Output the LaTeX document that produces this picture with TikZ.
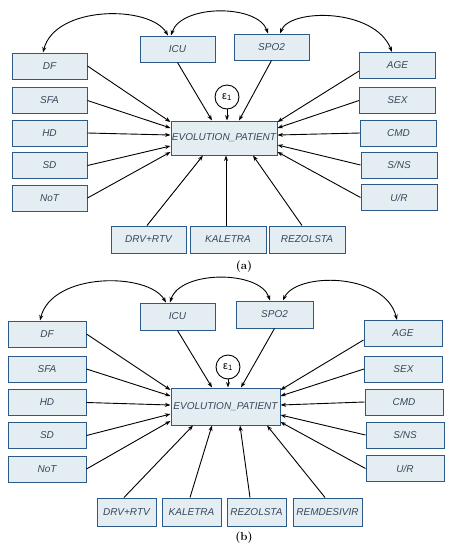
\documentclass[tikz,border=0pt]{standalone}
\usepackage{fontspec}
\newfontfamily\arialfont{Liberation Sans}
\usetikzlibrary{arrows.meta}
\definecolor{boxfill}{HTML}{E4EEF2}
\definecolor{boxline}{HTML}{2B5A88}
\definecolor{boxtext}{HTML}{38465A}
\tikzset{
  vbox/.style={draw=boxline, fill=boxfill, line width=1pt, rectangle, inner sep=0pt,
    minimum width=75pt, minimum height=26pt, text=boxtext,
    font=\arialfont\itshape\fontsize{10}{11}\selectfont},
  errc/.style={draw=black, fill=white, circle, line width=0.9pt, minimum size=24pt, inner sep=0pt,
    font=\arialfont\fontsize{11}{12}\selectfont},
  pth/.style={draw=black, line width=0.9pt, -{Stealth[length=5.5pt,width=4pt]}},
  cov/.style={draw=black, line width=0.9pt, {Stealth[length=5.5pt,width=4pt]}-{Stealth[length=5.5pt,width=4pt]}},
  plab/.style={font=\bfseries\fontsize{11.5}{13}\selectfont}
}
\begin{document}
\begin{tikzpicture}[x=1pt,y=-1pt]
\useasboundingbox (0,0) rectangle (452,550);
% ---------------- panel (a) ----------------
\node[vbox] (aDF)  at (49.5,66)   {DF};
\node[vbox] (aSFA) at (49.5,100.5){SFA};
\node[vbox] (aHD)  at (49.5,133)  {HD};
\node[vbox] (aSD)  at (49.5,165.5){SD};
\node[vbox] (aNoT) at (49.5,198)  {NoT};
\node[vbox,minimum width=76pt] (aAGE) at (397.5,65.5) {AGE};
\node[vbox,minimum width=76pt] (aSEX) at (397.5,100.5){SEX};
\node[vbox,minimum width=76pt] (aCMD) at (398.5,133)  {CMD};
\node[vbox,minimum width=76pt] (aSNS) at (399,165)    {S/NS};
\node[vbox,minimum width=76pt] (aUR)  at (399,197.5)  {U/R};
\node[vbox] (aICU) at (177.5,49) {ICU};
\node[vbox] (aSPO) at (271.5,47) {SPO2};
\node[vbox,minimum width=106pt,minimum height=34pt] (aEP) at (224,138) {EVOLUTION\_PATIENT};
\node[errc] (aE) at (227,97) {ε\textsubscript{1}};
\node[vbox,minimum height=27pt] (aDRV) at (148.5,239.5) {DRV+RTV};
\node[vbox,minimum width=76pt,minimum height=27pt] (aKAL) at (228,239.5) {KALETRA};
\node[vbox,minimum width=76pt,minimum height=27pt] (aREZ) at (307,239.5) {REZOLSTA};
\node[plab] (alab) at (244,267) {(a)};
\draw[pth] (aDF.east)  -- (aEP.west |- 0,122);
\draw[pth] (aSFA.east) -- (aEP.west |- 0,128);
\draw[pth] (aHD.east)  -- (aEP.west |- 0,135);
\draw[pth] (aSD.east)  -- (aEP.west |- 0,146);
\draw[pth] (aNoT.east) -- (aEP.west |- 0,152);
\draw[pth] (aAGE.west |- 0,71) -- (aEP.east |- 0,122);
\draw[pth] (aSEX.west) -- (aEP.east |- 0,128);
\draw[pth] (aCMD.west) -- (aEP.east |- 0,135);
\draw[pth] (aSNS.west) -- (aEP.east |- 0,145);
\draw[pth] (aUR.west)  -- (aEP.east |- 0,152);
\draw[pth] (aICU.south) -- (aEP.north -| 212,0);
\draw[pth] (aSPO.south) -- (aEP.north -| 239,0);
\draw[pth] (aE.south) -- (aEP.north -| 227,0);
\draw[pth] (aDRV.north -| 147,0) -- (aEP.south -| 203,0);
\draw[pth] (aKAL.north -| 226,0) -- (aEP.south -| 226,0);
\draw[pth] (aREZ.north -| 302,0) -- (aEP.south -| 253,0);
\draw[cov] (aDF.north -| 43,0) .. controls (55,5) and (150,5) .. (aICU.north -| 168,0);
\draw[cov] (aICU.north -| 171,0) .. controls (181,4) and (258,4) .. (aSPO.north -| 268,0);
\draw[cov] (aSPO.north -| 280,0) .. controls (290,8) and (375,8) .. (aAGE.north -| 392,0);
% ---------------- panel (b) ----------------
\node[vbox,minimum width=78pt] (bDF)  at (47,334)   {DF};
\node[vbox,minimum width=78pt] (bSFA) at (47,369)   {SFA};
\node[vbox,minimum width=78pt] (bHD)  at (47,402.5) {HD};
\node[vbox,minimum width=78pt] (bSD)  at (47,435.5) {SD};
\node[vbox,minimum width=78pt] (bNoT) at (47,469)   {NoT};
\node[vbox,minimum width=78pt] (bAGE) at (403,333.5) {AGE};
\node[vbox,minimum width=78pt] (bSEX) at (403.5,369) {SEX};
\node[vbox,minimum width=78pt] (bCMD) at (404,402)   {CMD};
\node[vbox,minimum width=78pt] (bSNS) at (405,435)   {S/NS};
\node[vbox,minimum width=78pt] (bUR)  at (405,468.5) {U/R};
\node[vbox,minimum height=27pt] (bICU) at (177.5,316.5) {ICU};
\node[vbox,minimum width=77pt,minimum height=27pt] (bSPO) at (274.5,314.5) {SPO2};
\node[vbox,minimum width=109pt,minimum height=37pt] (bEP) at (225.5,406.5) {EVOLUTION\_PATIENT};
\node[errc] (bE) at (228,367) {ε\textsubscript{1}};
\node[vbox,minimum width=59pt,minimum height=28pt] (bDRV) at (126.5,512) {DRV+RTV};
\node[vbox,minimum width=59pt,minimum height=28pt] (bKAL) at (191.5,512) {KALETRA};
\node[vbox,minimum width=59pt,minimum height=28pt] (bREZ) at (256.5,512) {REZOLSTA};
\node[vbox,minimum width=69pt,minimum height=28pt] (bREM) at (327.5,512) {REMDESIVIR};
\node[plab] (blab) at (244,538) {(b)};
\draw[pth] (bDF.east)  -- (bEP.west |- 0,390);
\draw[pth] (bSFA.east) -- (bEP.west |- 0,396);
\draw[pth] (bHD.east)  -- (bEP.west |- 0,405);
\draw[pth] (bSD.east)  -- (bEP.west |- 0,414);
\draw[pth] (bNoT.east) -- (bEP.west |- 0,421);
\draw[pth] (bAGE.west |- 0,340) -- (bEP.east |- 0,390);
\draw[pth] (bSEX.west) -- (bEP.east |- 0,396);
\draw[pth] (bCMD.west) -- (bEP.east |- 0,405);
\draw[pth] (bSNS.west) -- (bEP.east |- 0,415);
\draw[pth] (bUR.west)  -- (bEP.east |- 0,422);
\draw[pth] (bICU.south) -- (bEP.north -| 212,0);
\draw[pth] (bSPO.south) -- (bEP.north -| 241,0);
\draw[pth] (bE.south) -- (bEP.north -| 228,0);
\draw[pth] (bDRV.north -| 124,0) -- (bEP.south -| 193,0);
\draw[pth] (bKAL.north -| 190,0) -- (bEP.south -| 212,0);
\draw[pth] (bREZ.north -| 250,0) -- (bEP.south -| 240,0);
\draw[pth] (bREM.north -| 325,0) -- (bEP.south -| 267,0);
\draw[cov] (bDF.north -| 40,0) .. controls (52,272) and (148,272) .. (bICU.north -| 166,0);
\draw[cov] (bICU.north -| 170,0) .. controls (180,270) and (260,270) .. (bSPO.north -| 270,0);
\draw[cov] (bSPO.north -| 283,0) .. controls (296,272) and (385,272) .. (bAGE.north -| 397,0);
\end{tikzpicture}
\end{document}
